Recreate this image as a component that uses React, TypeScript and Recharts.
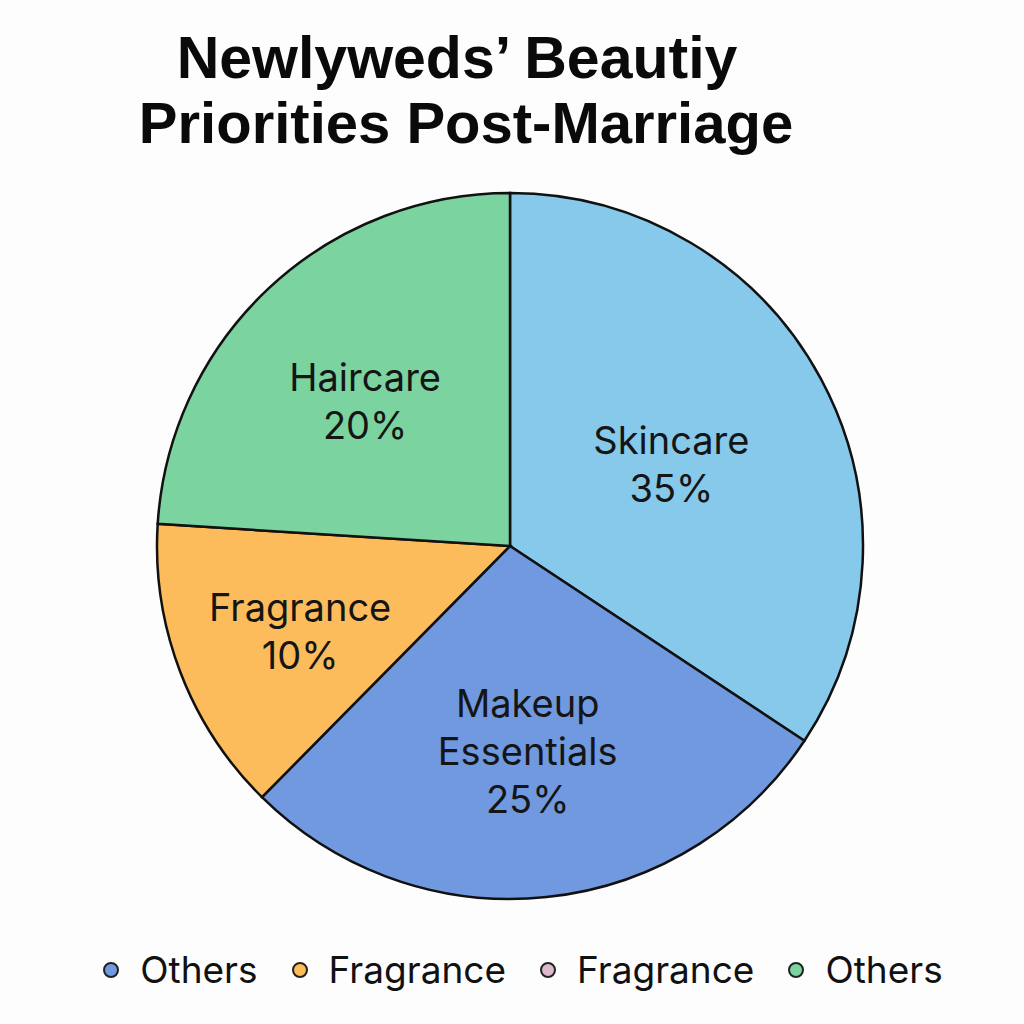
import { Cell, Legend, Pie, PieChart } from "recharts";

const categories = ["Skincare", "Makeup Essentials", "Fragrance", "Haircare"];
// slice sizes as drawn in the picture
const shares = [34.3, 28.1, 13.6, 24.0];
// percentages printed on the slices
const shareLabels = ["35%", "25%", "10%", "20%"];
const sliceColors = ["#86C9EA", "#7199DF", "#FCBC5B", "#7BD39F"];

const legendNames = ["Others", "Fragrance", "Fragrance", "Others"];
const legendColors = ["#6F9BE0", "#FBBC5A", "#DDB9CE", "#7DD3A0"];

const titleLines = ["Newlyweds\u2019 Beautiy", "Priorities Post-Marriage"];

const data = categories.map((name, i) => ({ name, value: shares[i], pct: shareLabels[i] }));

const RADIAN = Math.PI / 180;
const LABEL_FONT = "Inter, 'Noto Sans', sans-serif";
const TITLE_FONT = "'Liberation Sans', Arial, sans-serif";

// label sits near the centroid of its slice
function SliceLabel(props: any) {
  const { cx, cy, midAngle, outerRadius, index, percent } = props;
  const half = Math.max(percent * Math.PI, 0.01);
  const r = ((2 * outerRadius * Math.sin(half)) / (3 * half)) * 0.97;
  const x = cx + r * Math.cos(-midAngle * RADIAN) - 3;
  const y = cy + r * Math.sin(-midAngle * RADIAN) + 6;
  const name = categories[index];
  const lines = name.length > 12 ? name.split(" ") : [name];
  lines.push(shareLabels[index]);
  const lh = 48;
  const first = y - ((lines.length - 1) * lh) / 2;
  return (
    <text
      x={x}
      y={first}
      textAnchor="middle"
      dominantBaseline="central"
      fill="#151515"
      fontSize={38}
      fontFamily={LABEL_FONT}
    >
      {lines.map((l, i) => (
        <tspan key={i} x={x} y={first + i * lh}>
          {l}
        </tspan>
      ))}
    </text>
  );
}

function LegendRow() {
  return (
    <div
      style={{
        display: "flex",
        justifyContent: "center",
        alignItems: "center",
        gap: 34,
        fontFamily: LABEL_FONT,
        fontSize: 37,
        color: "#111",
        paddingLeft: 22,
      }}
    >
      {legendNames.map((n, i) => (
        <div key={i} style={{ display: "flex", alignItems: "center", gap: 21 }}>
          <span
            style={{
              display: "inline-block",
              width: 12,
              height: 12,
              borderRadius: "50%",
              background: legendColors[i],
              border: "2px solid #222",
            }}
          />
          <span>{n}</span>
        </div>
      ))}
    </div>
  );
}

export default function App() {
  return (
    <div
      style={{
        position: "fixed",
        left: 0,
        top: 0,
        width: 1024,
        height: 1024,
        background: "#FDFDFD",
      }}
    >
      <svg width={1024} height={170} style={{ position: "absolute", left: 0, top: 0 }}>
        <text
          x={457}
          y={78}
          textAnchor="middle"
          fontSize={59}
          fontWeight={700}
          fontFamily={TITLE_FONT}
          fill="#0a0a0a"
        >
          {titleLines[0]}
        </text>
        <text
          x={466}
          y={143}
          textAnchor="middle"
          fontSize={58}
          fontWeight={700}
          fontFamily={TITLE_FONT}
          fill="#0a0a0a"
        >
          {titleLines[1]}
        </text>
      </svg>
      <div style={{ position: "absolute", left: 0, top: 0 }}>
        <PieChart width={1024} height={1024} margin={{ top: 0, right: 0, bottom: 0, left: 0 }}>
          <Pie
            data={data}
            dataKey="value"
            nameKey="name"
            cx={510}
            cy={546}
            outerRadius={353}
            startAngle={90}
            endAngle={-270}
            stroke="#111"
            strokeWidth={2.5}
            label={SliceLabel}
            labelLine={false}
            isAnimationActive={false}
          >
            {data.map((_, i) => (
              <Cell key={i} fill={sliceColors[i]} />
            ))}
          </Pie>
          <Legend
            content={() => <LegendRow />}
            wrapperStyle={{ position: "absolute", left: 0, top: 947, width: 1024, height: 50 }}
          />
        </PieChart>
      </div>
    </div>
  );
}
